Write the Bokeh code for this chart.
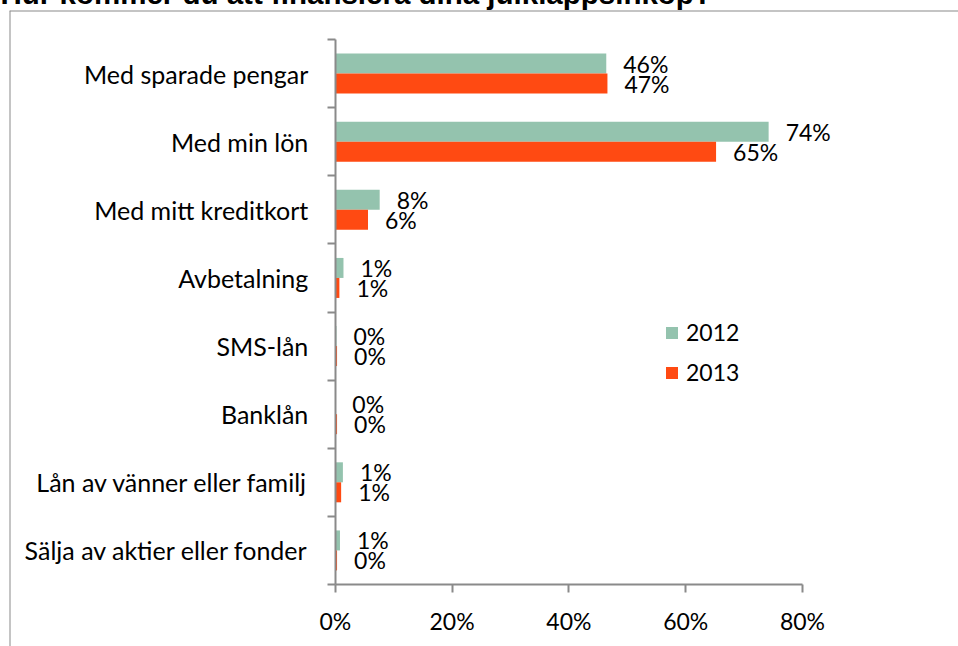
from bokeh.plotting import figure
from bokeh.models import (Range1d, FixedTicker, NumeralTickFormatter, LinearAxis, Span,
                          ColumnDataSource, Legend, LegendItem)
from bokeh.transform import dodge
from bokeh.core.properties import value
from bokeh.embed import file_html
from bokeh.resources import INLINE

# ---------------- data ----------------
title_text = "Hur kommer du att finansiera dina julklappsinköp?"
categories = ["Med sparade pengar", "Med min lön", "Med mitt kreditkort", "Avbetalning",
              "SMS-lån", "Banklån", "Lån av vänner eller familj", "Sälja av aktier eller fonder"]
values_2012 = [0.464, 0.742, 0.076, 0.014, 0.002, 0.000, 0.013, 0.008]
values_2013 = [0.466, 0.652, 0.056, 0.007, 0.003, 0.003, 0.010, 0.003]
series_names = ["2012", "2013"]
x_ticks = [0, 0.2, 0.4, 0.6, 0.8]

# ---------------- style / layout ----------------
GREEN = "#94C3AE"
RED = "#FF4A12"
GRAY = "#8A8A8A"
FONT = "Lato"
FS_NUM = "23px"
FS_CAT = "25px"

MARGIN_TOP = -27
W = 958
FRAME_LEFT_PX = 9        # page px of frame left
FRAME_TOP_PX = 10        # page px of frame top
FRAME_BOTTOM_PX = 646
H = FRAME_BOTTOM_PX - MARGIN_TOP
X0_PX, X80_PX = 334.8, 802.0
YTOP_PX, YBOT_PX = 39.0, 584.0

n = len(categories)
cat_pos = list(range(n, 0, -1))             # top category highest
px_per_x = (X80_PX - X0_PX) / 0.8
px_per_y = (YBOT_PX - YTOP_PX) / n
x_start = (FRAME_LEFT_PX - X0_PX) / px_per_x
x_end = (W - X0_PX) / px_per_x
y_end = n + 0.5 + (YTOP_PX - FRAME_TOP_PX) / px_per_y
y_start = 0.5 - (FRAME_BOTTOM_PX - YBOT_PX) / px_per_y
BAR = 20.0 / px_per_y

def pct(v):
    return f"{round(v * 100)}%"

src = ColumnDataSource(dict(
    y=cat_pos,
    v12=values_2012, v13=values_2013,
    l12=[pct(v) for v in values_2012], l13=[pct(v) for v in values_2013],
))

p = figure(width=W, height=H, output_backend="svg", toolbar_location=None,
           x_range=Range1d(x_start, x_end), y_range=Range1d(y_start, y_end),
           x_axis_location=None, y_axis_location=None,
           min_border_left=FRAME_LEFT_PX, min_border_right=0, min_border_top=0, min_border_bottom=0,
           styles={"margin-top": f"{MARGIN_TOP}px"})
p.outline_line_color = None
p.background_fill_color = "white"
p.border_fill_color = "white"
p.grid.visible = False

p.title.text = title_text
p.title.align = "left"
p.title.offset = -9
p.title.standoff = 2
p.title.text_font = "Liberation Sans"
p.title.text_font_style = "bold"
p.title.text_font_size = "29.5px"
p.title.text_color = "black"

r12 = p.hbar(y=dodge("y", BAR / 2, range=p.y_range), left=0, right="v12", height=BAR,
             fill_color=GREEN, line_color=None, source=src)
r13 = p.hbar(y=dodge("y", -BAR / 2, range=p.y_range), left=0, right="v13", height=BAR,
             fill_color=RED, line_color=None, source=src)

for col, lab, sgn in (("v12", "l12", 1), ("v13", "l13", -1)):
    p.text(x=col, y=dodge("y", sgn * BAR / 2, range=p.y_range), text=lab, source=src,
           x_offset=17, text_align="left", text_baseline="middle",
           text_font=value(FONT), text_font_size=FS_NUM, text_color="black")

# x axis
xaxis = LinearAxis(fixed_location=0.5, bounds=(x_ticks[0], x_ticks[-1]),
                   ticker=FixedTicker(ticks=x_ticks), formatter=NumeralTickFormatter(format="0%"))
xaxis.major_tick_out = 8
xaxis.major_tick_in = 0
xaxis.minor_tick_out = 0
xaxis.minor_tick_in = 0
xaxis.axis_line_color = GRAY
xaxis.axis_line_width = 2
xaxis.major_tick_line_color = GRAY
xaxis.major_tick_line_width = 2
xaxis.major_label_text_font = FONT
xaxis.major_label_text_font_size = FS_NUM
xaxis.major_label_text_color = "black"
xaxis.major_label_standoff = 14
p.add_layout(xaxis, "below")

# y axis: line + boundary ticks
bounds_ticks = [c - 0.5 for c in cat_pos] + [cat_pos[0] + 0.5]
ytick = LinearAxis(fixed_location=0, bounds=(0.5, n + 0.5), ticker=FixedTicker(ticks=bounds_ticks))
ytick.major_tick_out = 8
ytick.major_tick_in = 0
ytick.minor_tick_out = 0
ytick.minor_tick_in = 0
ytick.axis_line_color = GRAY
ytick.axis_line_width = 2
ytick.major_tick_line_color = GRAY
ytick.major_tick_line_width = 2
ytick.major_label_text_font_size = "0px"
ytick.major_label_text_alpha = 0
p.add_layout(ytick, "left")

# y axis: category labels
ylab = LinearAxis(fixed_location=0, ticker=FixedTicker(ticks=cat_pos),
                  major_label_overrides={pos: c for pos, c in zip(cat_pos, categories)})
ylab.major_tick_out = 0
ylab.major_tick_in = 0
ylab.minor_tick_out = 0
ylab.minor_tick_in = 0
ylab.axis_line_color = None
ylab.major_tick_line_color = None
ylab.major_label_text_font = FONT
ylab.major_label_text_font_size = FS_CAT
ylab.major_label_text_color = "black"
ylab.major_label_standoff = 27
p.add_layout(ylab, "left")

# chart-area border (top and left)
p.add_layout(Span(location=x_start, dimension="height", line_color=GRAY, line_width=2))
p.add_layout(Span(location=y_end, dimension="width", line_color=GRAY, line_width=2))

legend = Legend(items=[LegendItem(label=series_names[0], renderers=[r12]),
                       LegendItem(label=series_names[1], renderers=[r13])],
                location=(655, 260), orientation="vertical",
                glyph_width=15, glyph_height=15, label_standoff=7, spacing=12, label_height=28,
                padding=0, margin=0, border_line_color=None, background_fill_alpha=0,
                label_text_font=FONT, label_text_font_size=FS_NUM, label_text_color="black")
p.add_layout(legend)

open("out.html", "w").write(file_html(p, INLINE))
